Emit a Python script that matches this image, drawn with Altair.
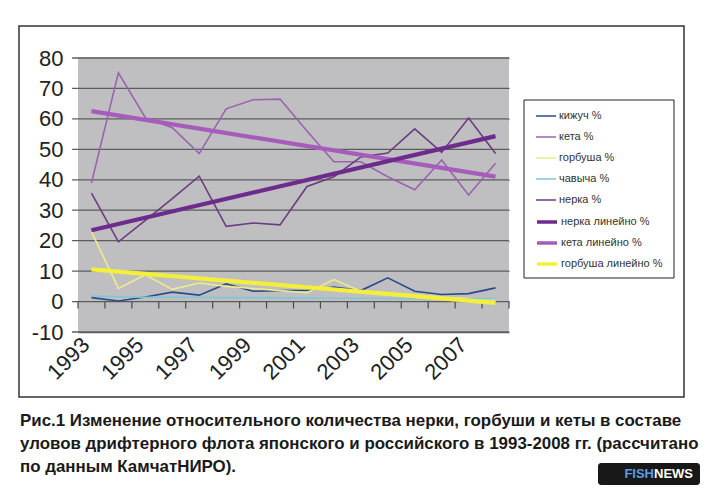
import altair as alt
import pandas as pd

years = list(range(1993, 2009))
kizhuch = [1.3, 0.2, 1.5, 3.1, 2.1, 5.8, 3.4, 3.6, 3.7, 4.8, 3.6, 7.8, 3.4, 2.3, 2.6, 4.5]
keta = [39.0, 75.1, 60.4, 57.1, 48.6, 63.3, 66.3, 66.5, 56.0, 45.9, 45.9, 41.0, 36.7, 46.5, 35.0, 45.4]
gorbusha = [23.0, 4.3, 8.8, 4.0, 6.1, 5.0, 4.3, 3.6, 2.9, 7.2, 3.4, 2.8, 2.2, 1.5, 1.0, 0.6]
chavycha = [1.8, 1.6, 1.4, 1.4, 1.4, 1.3, 1.3, 1.2, 1.2, 1.1, 1.1, 1.0, 1.0, 1.0, 0.9, 0.9]
nerka = [35.6, 19.6, 26.7, 33.8, 41.2, 24.7, 25.8, 25.2, 37.8, 41.0, 47.5, 48.8, 56.7, 49.0, 60.3, 48.6]

fish_names = ["кижуч", "кета", "горбуша", "чавыча", "нерка"]
trend_fish = ["нерка", "кета", "горбуша"]
line_series = ["кижуч %", "кета %", "горбуша %", "чавыча %", "нерка %"]
line_colors = ["#2B4A8A", "#9A63AE", "#EDEB8C", "#80C6DA", "#6C3C80"]
trend_series = ["нерка линейно %", "кета линейно %", "горбуша линейно %"]
trend_colors = ["#6E2B8E", "#A65CBA", "#F3EF3C"]

y_ticks = list(range(-10, 90, 10))
x_labels = years[::2]
x_ticks = [y - 0.5 for y in years] + [years[-1] + 0.5]

caption = [
    "Рис.1 Изменение относительного количества нерки, горбуши  и кеты в составе",
    "уловов дрифтерного флота японского и российского в 1993-2008 гг. (рассчитано",
    "по данным КамчатНИРО).",
]

narrow = "Liberation Sans Narrow, Arial Narrow, Liberation Sans, sans-serif"

rows = []
for name, vals in zip(fish_names, [kizhuch, keta, gorbusha, chavycha, nerka]):
    for yr, v in zip(years, vals):
        rows.append({"year": yr, "value": v, "fish": name, "series": name + " %"})
df = pd.DataFrame(rows)
tick_df = pd.DataFrame({"t": x_ticks})


def make_legend(top, stroke_w, row_pad):
    return alt.Legend(
        title=None, orient="none", legendX=457, legendY=top,
        symbolType="stroke", symbolSize=400, symbolStrokeWidth=stroke_w,
        labelFont="Liberation Sans", labelFontSize=11, labelColor="#333",
        labelOffset=2, labelLimit=300, rowPadding=row_pad, padding=0
    )


x_min, x_max = 1992.5, 2008.5
x_scale = alt.Scale(domain=[x_min, x_max], nice=False, zero=False)
y_scale = alt.Scale(domain=[-10, 80], nice=False)

one = pd.DataFrame({"k": [0]})
plot_bg = alt.Chart(one).mark_rect(color="#BFBFC1").encode(
    x=alt.value(0), x2=alt.value(431), y=alt.value(0), y2=alt.value(274)
)

# one horizontal rule per gridline; each runs a little left of the plot to form the y tick
grid_rules = [
    alt.Chart(one).mark_rule(color="#5C5C5C", strokeWidth=1.3).encode(
        x=alt.X(datum=x_min - 0.22, scale=x_scale),
        x2=alt.X2(datum=x_max),
        y=alt.Y(datum=v, scale=y_scale),
    )
    for v in y_ticks
]

zero_ticks = alt.Chart(tick_df).mark_rule(color="#4A4A4A", strokeWidth=1.2).encode(
    x=alt.X("t:Q", scale=x_scale),
    y=alt.Y(datum=0, scale=y_scale), y2=alt.Y2(datum=-2.3)
)

thin = alt.Chart(df).mark_line(strokeWidth=1.6).encode(
    x=alt.X("year:Q", title=None, scale=x_scale,
            axis=alt.Axis(values=x_labels, tickCount=len(x_labels), format="d", ticks=False,
                          domain=False, grid=False, labelAngle=-45, labelAlign="right",
                          labelBaseline="middle", labelPadding=9, labelOffset=-6,
                          labelFont="Liberation Sans", labelFontSize=22, labelColor="#222",
                          labelFlush=False, labelOverlap=False)),
    y=alt.Y("value:Q", title=None, scale=y_scale,
            axis=alt.Axis(values=y_ticks, tickCount=len(y_ticks), grid=True,
                          gridColor="#5C5C5C", gridWidth=1.3, domain=False,
                          ticks=False, labelPadding=15, labelOverlap=False,
                          labelExpr="'' + datum.value", labelFont="Liberation Sans",
                          labelFontSize=22, labelColor="#222")),
    color=alt.Color("series:N", scale=alt.Scale(domain=line_series, range=line_colors),
                    legend=make_legend(47, 1.5, 5)),
    detail="series:N"
)

trend = alt.Chart(df).transform_filter(
    alt.FieldOneOfPredicate(field="fish", oneOf=trend_fish)
).transform_regression("year", "value", groupby=["fish"]).transform_calculate(
    series="datum.fish + ' линейно %'"
).mark_line(strokeWidth=4.2).encode(
    x=alt.X("year:Q", scale=x_scale),
    y=alt.Y("value:Q", scale=y_scale),
    color=alt.Color("series:N", scale=alt.Scale(domain=trend_series, range=trend_colors),
                    legend=make_legend(152, 3.5, 2)),
    detail="series:N"
)

frame = alt.Chart(one).mark_rect(fillOpacity=0, stroke="#333", strokeWidth=1.5).encode(
    x=alt.value(-59), x2=alt.value(606), y=alt.value(-32), y2=alt.value(339)
)
legend_box = alt.Chart(one).mark_rect(fill="white", stroke="#222", strokeWidth=1).encode(
    x=alt.value(446), x2=alt.value(596), y=alt.value(42), y2=alt.value(220)
)
caption_txt = alt.Chart(one).mark_text(
    text=caption, align="left", baseline="alphabetic", lineHeight=23,
    font=narrow, fontWeight="bold", fontSize=16.9, color="#1a1a1a"
).encode(x=alt.value(-58), y=alt.value(368))
badge = alt.Chart(one).mark_rect(fill="#181818", cornerRadius=3).encode(
    x=alt.value(520), x2=alt.value(622), y=alt.value(405), y2=alt.value(427)
)
fish_txt = alt.Chart(one).mark_text(
    text="FISH", align="right", baseline="middle", font=narrow,
    fontWeight="bold", fontSize=13, color="#5B9FE0"
).encode(x=alt.value(576), y=alt.value(416))
news_txt = alt.Chart(one).mark_text(
    text="NEWS", align="left", baseline="middle", font=narrow,
    fontWeight="bold", fontSize=13, color="white"
).encode(x=alt.value(576), y=alt.value(416))

chart = alt.layer(
    frame, legend_box, plot_bg, *grid_rules, zero_ticks, thin, trend,
    caption_txt, badge, fish_txt, news_txt
).resolve_scale(color="independent").properties(
    width=431, height=274,
    autosize=alt.AutoSizeParams(type="none"),
    padding={"left": 70, "top": 50, "right": 192, "bottom": 154},
    background="white"
).configure_view(stroke=None)

chart.save("out.html", embed_options={"renderer": "svg", "actions": False})
